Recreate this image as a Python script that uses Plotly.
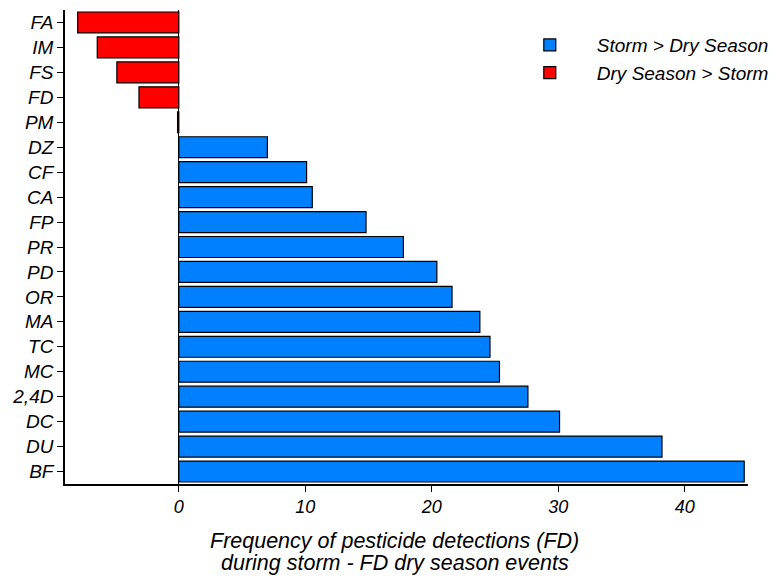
import plotly.graph_objects as go

# Pesticide codes, top to bottom
pesticides = ["FA", "IM", "FS", "FD", "PM", "DZ", "CF", "CA", "FP", "PR",
              "PD", "OR", "MA", "TC", "MC", "2,4D", "DC", "DU", "BF"]
# Difference in detection frequency: storm FD minus dry-season FD
fd_difference = [-8.0, -6.45, -4.9, -3.15, -0.1, 7.0, 10.1, 10.55, 14.8, 17.75,
                 20.4, 21.6, 23.8, 24.6, 25.35, 27.6, 30.1, 38.2, 44.7]

storm_label = "Storm > Dry Season"
dry_label = "Dry Season > Storm"
x_ticks = [0, 10, 20, 30, 40]
x_title_lines = ["Frequency of pesticide detections (FD)",
                 "during storm - FD dry season events"]

storm_cats = [p for p, v in zip(pesticides, fd_difference) if v > 0]
storm_vals = [v for v in fd_difference if v > 0]
dry_cats = [p for p, v in zip(pesticides, fd_difference) if v <= 0]
dry_vals = [v for v in fd_difference if v <= 0]

font_family = "Liberation Sans, Arial, sans-serif"

fig = go.Figure()
fig.add_trace(go.Bar(
    y=storm_cats, x=storm_vals, orientation="h", name=storm_label,
    marker=dict(color="#0080ff", line=dict(color="#000000", width=1.2)),
))
fig.add_trace(go.Bar(
    y=dry_cats, x=dry_vals, orientation="h", name=dry_label,
    marker=dict(color="#ff0000", line=dict(color="#000000", width=1.2)),
))

# X-axis caption, two tightly spaced lines
for line, ypos in zip(x_title_lines, [-0.121, -0.167]):
    fig.add_annotation(
        text=line, xref="paper", yref="paper", x=0.483, y=ypos,
        xanchor="center", yanchor="middle", showarrow=False,
        font=dict(size=21.5, style="italic"),
    )

fig.update_layout(
    width=779, height=577,
    margin=dict(l=65, r=31, t=10, b=93, autoexpand=False),
    plot_bgcolor="white", paper_bgcolor="white",
    barmode="overlay", bargap=0.16,
    font=dict(family=font_family, size=18, color="#000000", style="italic"),
    legend=dict(
        x=0.641, y=0.966, xanchor="left", yanchor="top",
        bgcolor="rgba(0,0,0,0)", font=dict(size=19, style="italic"),
        itemwidth=84, tracegroupgap=0,
    ),
    xaxis=dict(
        range=[-9, 45], tickvals=x_ticks, ticks="outside", ticklen=6,
        tickcolor="#000000", showgrid=False, automargin=False,
        showline=True, linecolor="#000000", linewidth=1.5,
        zeroline=True, zerolinecolor="#000000", zerolinewidth=1.2,
        tickfont=dict(size=18, style="italic"),
    ),
    yaxis=dict(
        categoryorder="array", categoryarray=pesticides, autorange="reversed",
        ticks="outside", ticklen=6, tickcolor="#000000", showgrid=False,
        automargin=False,
        showline=True, linecolor="#000000", linewidth=1.5,
        tickfont=dict(size=19, style="italic"),
    ),
)

fig.write_html("out.html")
